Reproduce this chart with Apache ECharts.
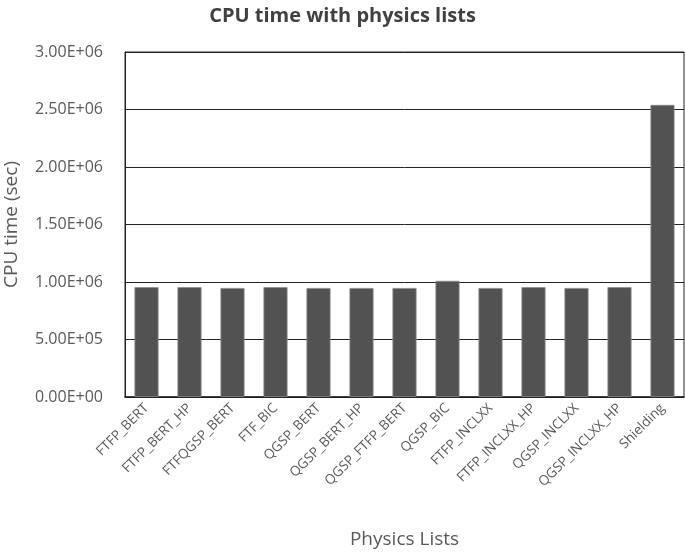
<!DOCTYPE html>
<html>
<head>
<meta charset="utf-8">
<script src="https://cdn.jsdelivr.net/npm/echarts@6/dist/echarts.min.js"></script>
<style>
  html, body { margin: 0; padding: 0; background: #fff; }
  #chart { width: 685px; height: 554px; }
</style>
</head>
<body>
<div id="chart"></div>
<script>
// physics list names (x axis)
const physicsLists = ['FTFP_BERT', 'FTFP_BERT_HP', 'FTFQGSP_BERT', 'FTF_BIC', 'QGSP_BERT',
  'QGSP_BERT_HP', 'QGSP_FTFP_BERT', 'QGSP_BIC', 'FTFP_INCLXX', 'FTFP_INCLXX_HP',
  'QGSP_INCLXX', 'QGSP_INCLXX_HP', 'Shielding']
// CPU time in seconds
const cpuTime = [955000, 955000, 948000, 955000, 948000, 948000, 948000, 1010000,
  948000, 955000, 948000, 955000, 2540000]

const fontFamily = '"Open Sans", sans-serif'
const labelColor = '#595959'

const chart = echarts.init(document.getElementById('chart'))

chart.setOption({
  animation: false,
  backgroundColor: '#fff',
  title: {
    text: 'CPU time with physics lists',
    left: 'center',
    top: 1,
    textStyle: { fontFamily, fontSize: 20, fontWeight: 'bold', color: '#404040' },
  },
  grid: {
    left: 125, right: 1, top: 52, bottom: 157,
    outerBoundsMode: 'none',
    show: true, borderColor: '#222', borderWidth: 1,
  },
  xAxis: {
    type: 'category',
    data: physicsLists,
    name: 'Physics Lists',
    nameLocation: 'middle',
    nameGap: 133,
    nameTextStyle: { fontFamily, fontSize: 19, color: labelColor },
    axisLine: { show: true, lineStyle: { color: '#222', width: 1.5 } },
    axisTick: { show: false },
    axisLabel: { interval: 0, rotate: 45, margin: 9, fontFamily, fontSize: 13.5, color: labelColor },
  },
  yAxis: {
    type: 'value',
    min: 0,
    max: 3000000,
    interval: 500000,
    name: 'CPU time (sec)',
    nameLocation: 'middle',
    nameGap: 104,
    nameTextStyle: { fontFamily, fontSize: 19, color: labelColor },
    axisLine: { show: true, lineStyle: { color: '#222' } },
    axisTick: { show: false },
    axisLabel: {
      margin: 22,
      fontFamily,
      fontSize: 16,
      color: labelColor,
      formatter: v => {
        if (v === 0) return '0.00E+00'
        const e = Math.floor(Math.log10(v))
        return (v / Math.pow(10, e)).toFixed(2) + 'E+' + String(e).padStart(2, '0')
      },
    },
    splitLine: { lineStyle: { color: '#222', width: 1 } },
  },
  series: [{
    type: 'bar',
    data: cpuTime,
    barCategoryGap: '44%',
    z: 1,
    itemStyle: { color: '#525252', borderColor: '#8c8c8c', borderWidth: 0.8 },
  }],
})
</script>
</body>
</html>
